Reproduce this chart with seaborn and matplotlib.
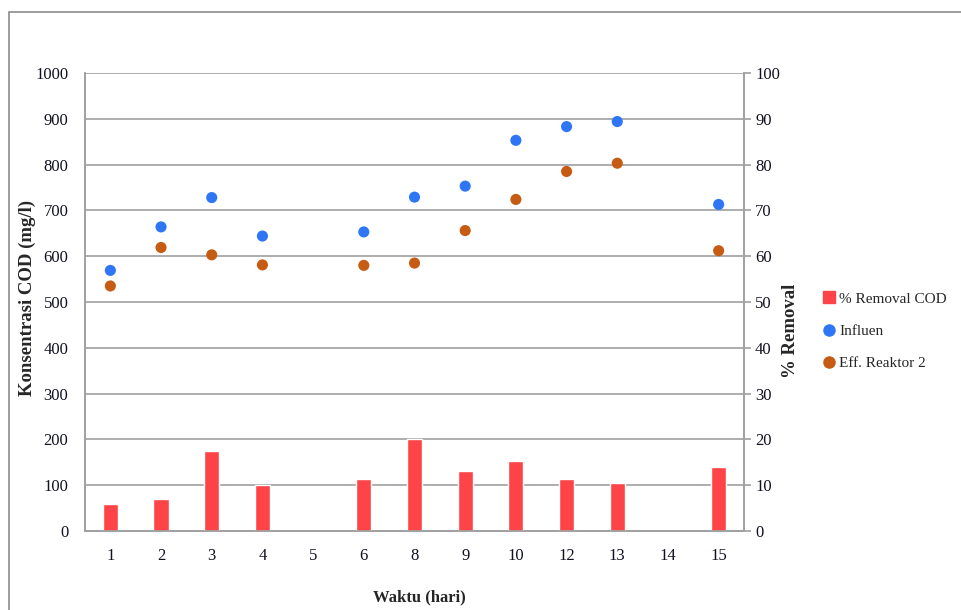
import numpy as np
import pandas as pd
import matplotlib
matplotlib.use("Agg")
import matplotlib.pyplot as plt
from matplotlib.lines import Line2D
from matplotlib.patches import Rectangle
import seaborn as sns

# Sampling days on the x axis (days 5 and 14 have no measurements)
days = ["1", "2", "3", "4", "5", "6", "8", "9", "10", "12", "13", "14", "15"]
measured_days = ["1", "2", "3", "4", "6", "8", "9", "10", "12", "13", "15"]

# COD concentration (mg/l)
influen = [569, 664, 728, 644, 653, 729, 753, 853, 883, 894, 713]
eff_reaktor2 = [535, 619, 603, 581, 580, 585, 656, 724, 785, 803, 612]

# COD removal (%)
removal = [6.0, 7.0, 17.5, 10.0, 11.3, 20.0, 13.1, 15.3, 11.3, 10.4, 14.0]

left_ticks = list(range(0, 1001, 100))
right_ticks = list(range(0, 101, 10))

BLUE = "#2F76F6"
ORANGE = "#C65B14"
RED = "#FF4447"
GRID = "#A0A0A0"

sns.set_theme(style="white")
plt.rcParams["font.family"] = ["Liberation Serif", "DejaVu Serif"]

points = pd.DataFrame({
    "hari": measured_days * 2,
    "cod": influen + eff_reaktor2,
    "seri": ["Influen"] * len(influen) + ["Eff. Reaktor 2"] * len(eff_reaktor2),
})
bars = pd.DataFrame({"hari": measured_days, "removal": removal})

fig = plt.figure(figsize=(9.62, 6.10), dpi=100)
ax = fig.add_axes([85 / 962, 1 - 531 / 610, (744 - 85) / 962, (531 - 73) / 610])
ax2 = ax.twinx()

# Scatter of COD concentrations on the left axis
sns.stripplot(data=points, x="hari", y="cod", hue="seri", order=days,
              hue_order=["Influen", "Eff. Reaktor 2"],
              palette=[BLUE, ORANGE], jitter=False, dodge=False,
              size=8, linewidth=0, ax=ax, legend=False, zorder=3)

# Removal percentage bars on the right axis
sns.barplot(data=bars, x="hari", y="removal", order=days, color=RED,
            width=0.3, saturation=1, ax=ax2, errorbar=None, zorder=2)

ax.set_ylim(0, 1000)
ax2.set_ylim(0, 100)
ax.set_xlim(-0.5, len(days) - 0.5)
ax.set_yticks(left_ticks)
ax2.set_yticks(right_ticks)

ax.yaxis.grid(True, color=GRID, linewidth=1.2)
ax.set_axisbelow(True)
ax2.grid(False)

for a in (ax, ax2):
    for side in ("left", "right", "top", "bottom"):
        a.spines[side].set_color(GRID)
        a.spines[side].set_linewidth(1.2)
ax.spines["top"].set_visible(False)
ax2.spines["top"].set_visible(False)

ax.tick_params(axis="y", length=0, pad=12, labelsize=12, colors="#111122")
ax.tick_params(axis="x", length=0, pad=12, labelsize=12, colors="#111122")
ax2.tick_params(axis="y", length=5, width=1.2, color=GRID, pad=3,
                labelsize=12, labelcolor="#111122")

ax.set_xlabel("Waktu (hari)", fontsize=12, fontweight="bold")
ax.xaxis.set_label_coords(0.508, -0.128)
ax.set_ylabel("Konsentrasi COD (mg/l)", fontsize=13.5, fontweight="bold")
ax.yaxis.set_label_coords(-0.074, 0.508)
ax2.set_ylabel("% Removal", fontsize=13.5, fontweight="bold")
ax2.yaxis.set_label_coords(1.058, 0.438)

# Outer chart border
fig.patches.append(Rectangle((9 / 962, -0.1), 1.2, 1 - 12 / 610 + 0.1,
                             transform=fig.transFigure, fill=False,
                             edgecolor="#8C8C8C", linewidth=1.2))

handles = [
    Line2D([], [], marker="s", linestyle="none", color=RED, markersize=8),
    Line2D([], [], marker="o", linestyle="none", color=BLUE, markersize=8),
    Line2D([], [], marker="o", linestyle="none", color=ORANGE, markersize=8),
]
fig.legend(handles, ["% Removal COD", "Influen", "Eff. Reaktor 2"],
           loc="center left", bbox_to_anchor=(818 / 962, 1 - 331 / 610),
           frameon=False, fontsize=11, handlelength=0.7, handletextpad=0.3,
           labelspacing=1.2, borderaxespad=0)

fig.savefig("out.png", dpi=100)
